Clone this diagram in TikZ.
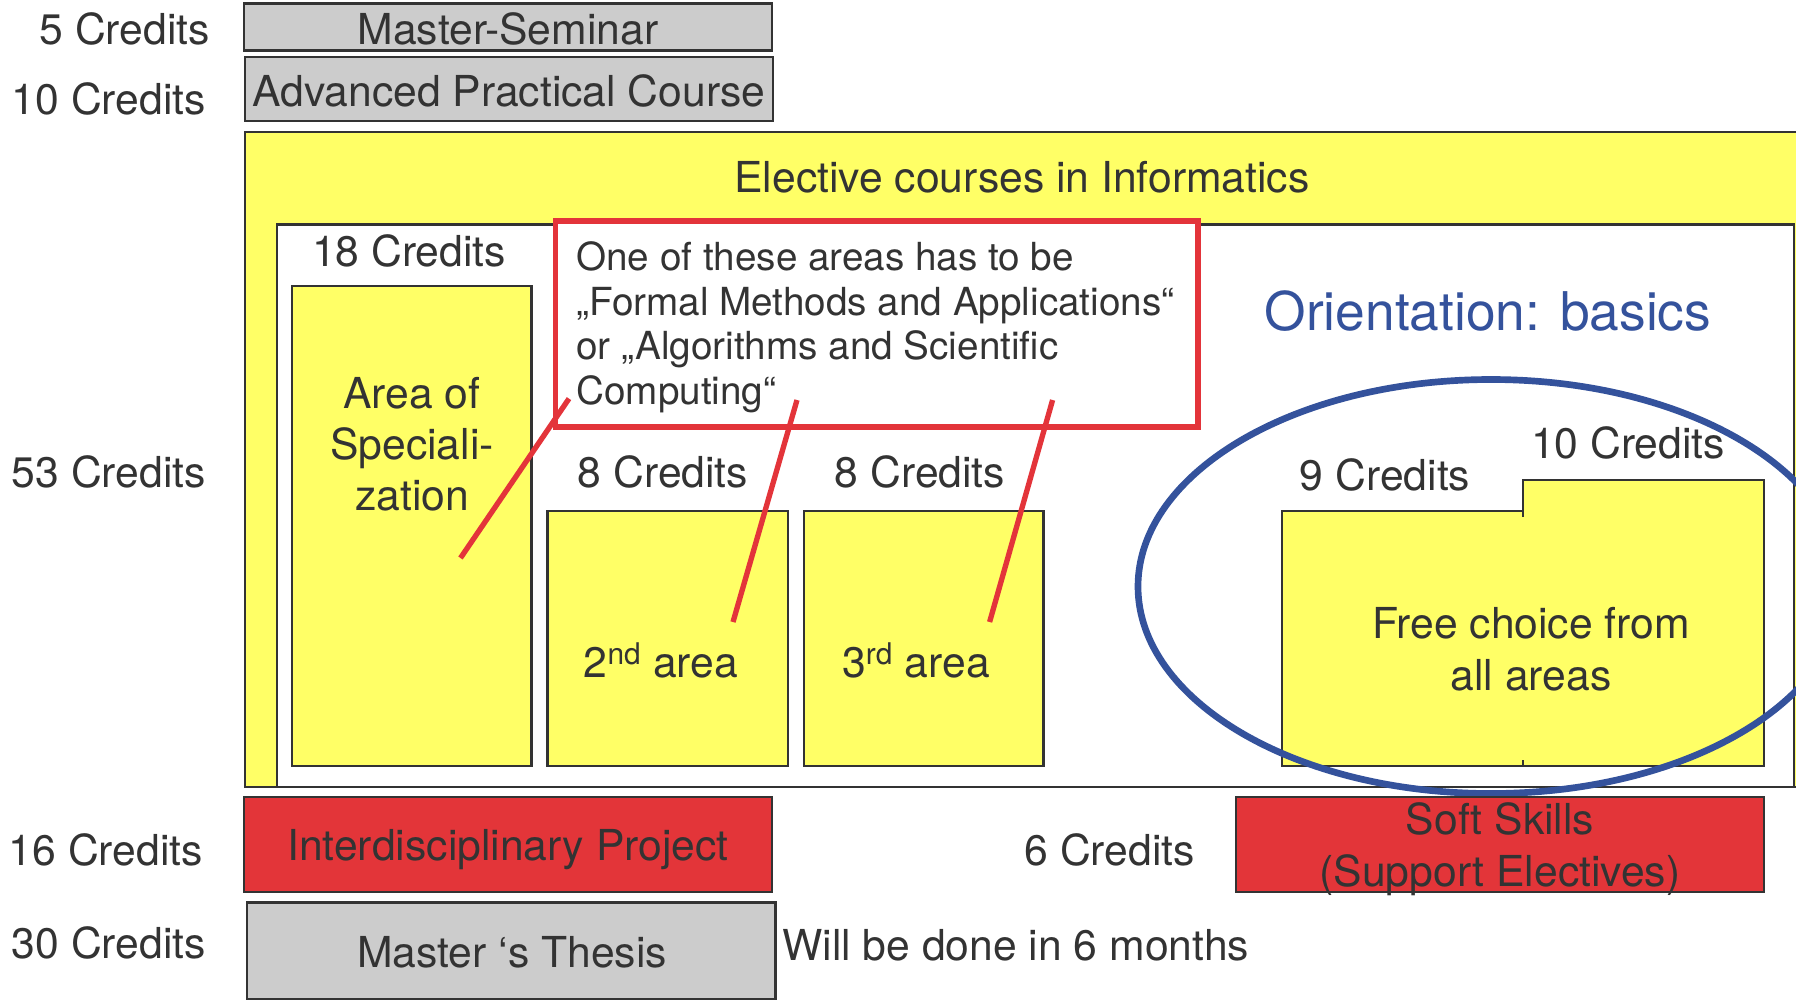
\documentclass[tikz,border=0pt]{standalone}
\usepackage{fontspec}
\setmainfont{TeX Gyre Heros}
\usetikzlibrary{fit}
\definecolor{boxyellow}{HTML}{FFFF66}
\definecolor{boxred}{HTML}{E33539}
\definecolor{boxgray}{HTML}{CCCCCC}
\definecolor{ellblue}{HTML}{34529C}
\definecolor{txt}{HTML}{333333}
\definecolor{edge}{HTML}{333333}
\definecolor{linered}{HTML}{E3343A}
\begin{document}
\begin{tikzpicture}[x=0.75pt,y=-0.75pt,
  box/.style={draw=edge, line width=1.7pt, inner sep=0pt},
  lbl/.style={text=txt, inner sep=0pt, anchor=base, font=\fontsize{32}{38}\selectfont},
  lble/.style={lbl, anchor=base east},
  redline/.style={draw=linered, line width=4pt},
]
\useasboundingbox (0,0) rectangle (1796,1001);
\clip (0,0) rectangle (1796,1001);

% top boxes
\node[box, fill=boxgray, fit={(244,3.4)(772,50.4)}] (ms) {};
\node[lbl] (mst) at (508,44) {Master-Seminar};
\node[lble] (c5) at (210,44) {5 Credits};
\node[box, fill=boxgray, fit={(245,57)(773,121)}] (apc) {};
\node[lbl] (apct) at (509,106) {Advanced Practical Course};
\node[lble] (c10) at (206,114) {10 Credits};

% elective area
\node[box, fill=boxyellow, fit={(245,132)(1800,787)}] (elec) {};
\node[lbl] (elect) at (1022,192) {Elective courses in Informatics};
\node[box, fill=white, fit={(277,224.5)(1794,787)}] (inner) {};
\node[lble] (c53) at (206,487) {53 Credits};

% area of specialization
\node[box, fill=boxyellow, fit={(292,286)(531.5,766)}] (spec) {};
\node[lbl] (c18) at (409,266) {18 Credits};
\node[lbl, align=center, font=\fontsize{32}{38.25}\selectfont] (spect) at (412,510) {Area of\\Speciali-\\zation};

% 2nd and 3rd area
\node[box, fill=boxyellow, fit={(547.5,511)(788,766)}] (a2) {};
\node[box, fill=boxyellow, fit={(804,511)(1043.5,766)}] (a3) {};
\node[lbl] (c8a) at (663,487) {8 Credits};
\node[lbl] (c8b) at (920,487) {8 Credits};
\node[lbl] (a2t) at (661,677) {2\textsuperscript{nd} area};
\node[lbl] (a3t) at (916,677) {3\textsuperscript{rd} area};

% red note box
\node[draw=linered, line width=4pt, fill=white, inner sep=0pt, fit={(555.5,221)(1198,427)}] (note) {};
\node[lbl, anchor=base west, align=left, font=\fontsize{29}{33.5}\selectfont] (notet) at (576,404.6)
  {One of these areas has to be\\„Formal Methods and Applications“\\or „Algorithms and Scientific\\Computing“};

% red connectors
\coordinate (l1a) at (569,398.6);
\coordinate (l1b) at (460.5,558);
\coordinate (l2a) at (797,400);
\coordinate (l2b) at (733,622);
\coordinate (l3a) at (1052.6,400);
\coordinate (l3b) at (989.6,622);
\draw[redline] (l1a) -- (l1b);
\draw[redline] (l2a) -- (l2b);
\draw[redline] (l3a) -- (l3b);

% orientation
\node[inner sep=0pt, anchor=base, text=ellblue, font=\fontsize{40}{48}\selectfont] (orient) at (1488,330.6) {Orientation: basics};

% free choice
\coordinate (f1) at (1281.7,511);
\coordinate (f2) at (1523,511);
\coordinate (f3) at (1523,480);
\coordinate (f4) at (1764,480);
\coordinate (f5) at (1764,766);
\coordinate (f6) at (1281.7,766);
\filldraw[fill=boxyellow, draw=edge, line width=1.7pt] (f1) -- (f2) -- (f3) -- (f4) -- (f5) -- (f6) -- cycle;
\coordinate (t1) at (1523,517);
\coordinate (t2) at (1523,760);
\coordinate (t3) at (1523,766);
\draw[edge, line width=1.7pt] (f2) -- (t1);
\draw[edge, line width=1.7pt] (t2) -- (t3);
\node[lbl] (c9) at (1385,490) {9 Credits};
\node[lbl] (c10b) at (1628,458) {10 Credits};
\node[lbl, align=center, font=\fontsize{32}{39}\selectfont] (freet) at (1531,690) {Free choice from\\all areas};

% ellipse
\coordinate (ellc) at (1491,586.5);
\draw[ellblue, line width=5pt] (ellc) ellipse [x radius=353, y radius=207];

% bottom rows
\node[box, fill=boxred, fit={(244,797)(772,892)}] (ip) {};
\node[lbl] (ipt) at (508,860) {Interdisciplinary Project};
\node[lble] (c16) at (203,865) {16 Credits};
\node[lble] (c6) at (1195,865) {6 Credits};
\node[box, fill=boxred, fit={(1236,797)(1764,892)}] (ss) {};
\node[lbl, align=center, font=\fontsize{32}{38.6}\selectfont] (sst) at (1500,886) {Soft Skills\\(Support Electives)};
\node[box, fill=boxgray, fit={(247,902.6)(775.5,999)}] (mt) {};
\node[lbl] (mtt) at (512,967) {Master ‘s Thesis};
\node[lble] (c30) at (206,958) {30 Credits};
\node[lbl, anchor=base west] (done) at (782,960) {Will be done in 6 months};
\end{tikzpicture}
\end{document}
